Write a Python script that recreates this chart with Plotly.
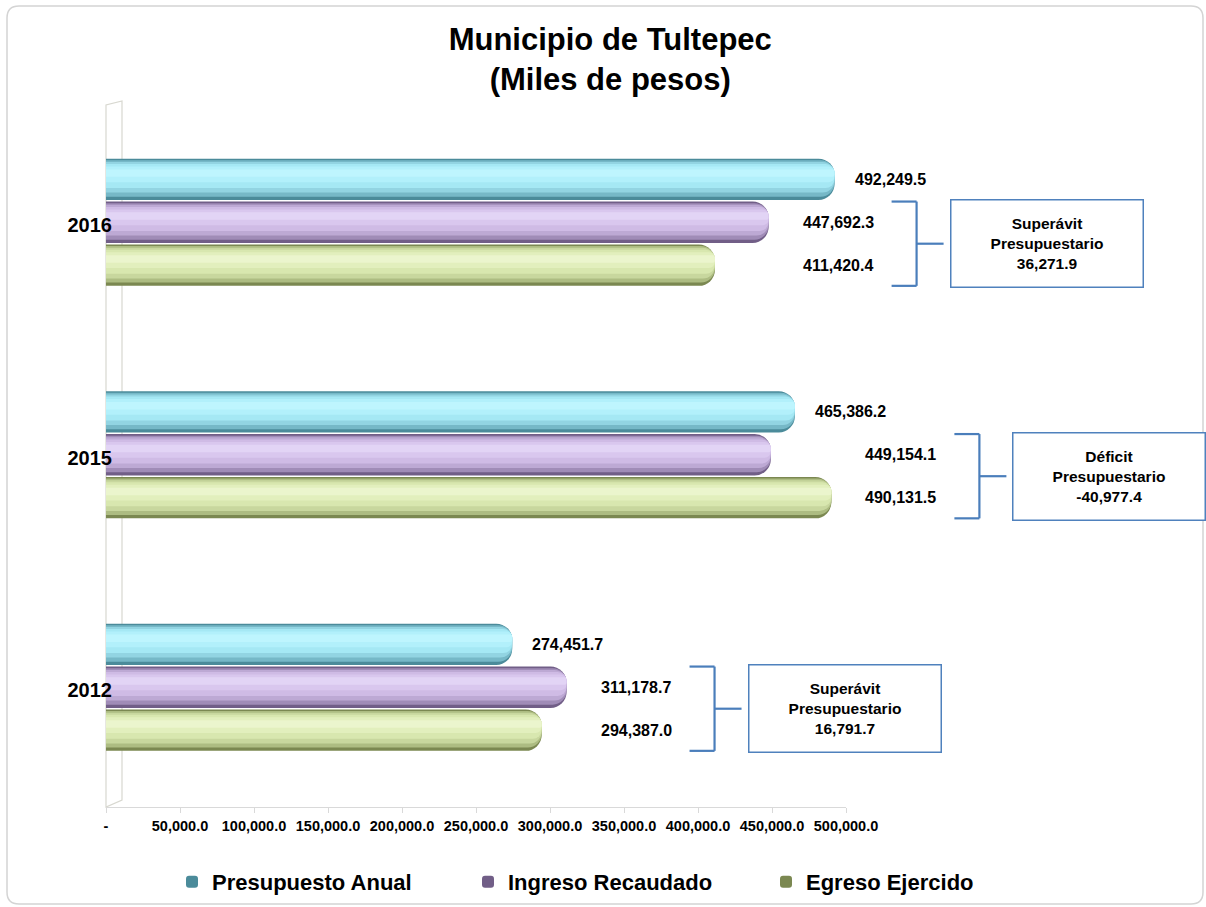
import plotly.graph_objects as go

# ---------------- data ----------------
years = ["2012", "2015", "2016"]
presupuesto_anual = [274451.7, 465386.2, 492249.5]
ingreso_recaudado = [311178.7, 449154.1, 447692.3]
egreso_ejercido = [294387.0, 490131.5, 411420.4]
series_names = ["Presupuesto Anual", "Ingreso Recaudado", "Egreso Ejercido"]
x_tick_vals = [0, 50000, 100000, 150000, 200000, 250000, 300000,
               350000, 400000, 450000, 500000]
x_tick_text = ["-", "50,000.0", "100,000.0", "150,000.0", "200,000.0",
               "250,000.0", "300,000.0", "350,000.0", "400,000.0",
               "450,000.0", "500,000.0"]

# ---------------- layout constants ----------------
W, H = 1206, 907
ML, MR, MT, MB = 106, 360, 106, 100
PW = W - ML - MR
PH = H - MT - MB
X_RANGE = [0, 500000]
Y_RANGE = [-0.515, 2.5]
FONT = "Liberation Sans, Arial, sans-serif"

SLOT = 0.1845          # distance between bar centres within a group
BW = 0.178             # bar thickness
offsets = [SLOT, 0.0, -SLOT]

# nested layers to imitate the cylinder shading: (fraction of thickness, upward shift)
layers = [(1.00, 0.00), (0.88, 0.02), (0.74, 0.05), (0.58, 0.08),
          (0.38, 0.12), (0.18, 0.15)]
palettes = [
    ["#4b8b9a", "#76b8c7", "#92d4e2", "#a5e8f4", "#b2f0fb", "#bef5fe"],
    ["#715e87", "#a08cb7", "#bda9d4", "#cfbbe5", "#d9c7ee", "#e2d4f5"],
    ["#7b8851", "#adbc82", "#c8d79e", "#d8e7af", "#e2efbd", "#ebf5cd"],
]
legend_ids = ["legend", "legend2", "legend3"]
legend_text_px = [213, 509, 807]

values = [presupuesto_anual, ingreso_recaudado, egreso_ejercido]
ypos = list(range(len(years)))


def fx(px):
    return (px - ML) / PW


def fy(py):
    return (H - MB - py) / PH


def dx(v):
    return (v - X_RANGE[0]) / (X_RANGE[1] - X_RANGE[0])


def dy(v):
    return (v - Y_RANGE[0]) / (Y_RANGE[1] - Y_RANGE[0])


fig = go.Figure()

for s, (name, vals) in enumerate(zip(series_names, values)):
    for k, (frac, shift) in enumerate(layers):
        thick = frac * BW
        centre = offsets[s] + shift * BW
        fig.add_trace(go.Bar(
            y=ypos, x=vals, orientation="h", name=name,
            offset=centre - thick / 2, width=thick,
            marker=dict(color=palettes[s][k], line=dict(width=0),
                        cornerradius="40%"),
            showlegend=(k == 0), legendgroup=name, legend=legend_ids[s],
            hovertemplate=name + ": %{x:,.1f}<extra></extra>",
        ))

annotations = []
shapes = []
label_font = dict(family=FONT, size=16, color="#000000", weight="bold")

for i in ypos:
    annotations.append(dict(
        x=presupuesto_anual[i], y=i + offsets[0], xref="x", yref="y",
        text=f"{presupuesto_anual[i]:,.1f}", showarrow=False,
        xanchor="left", yanchor="middle", xshift=18, font=label_font))
    m = max(ingreso_recaudado[i], egreso_ejercido[i])
    for s in (1, 2):
        annotations.append(dict(
            x=m, y=i + offsets[s], xref="x", yref="y",
            text=f"{values[s][i]:,.1f}", showarrow=False,
            xanchor="left", yanchor="middle", xshift=32, font=label_font))

    # bracket + balance box
    ytop = dy(i + offsets[1] + BW / 2)
    ybot = dy(i + offsets[2] - BW / 2)
    ymid = (ytop + ybot) / 2
    xa = dx(m)
    line = dict(color="#4a7ebb", width=2.2)
    for (x0, x1, y0, y1) in [(123, 148, ytop, ytop), (148, 148, ytop, ybot),
                             (123, 148, ybot, ybot), (148, 175, ymid, ymid)]:
        shapes.append(dict(type="line", xref="paper", yref="paper",
                           xsizemode="pixel", xanchor=xa, x0=x0, x1=x1,
                           y0=y0, y1=y1, line=line, layer="above"))
    diff = ingreso_recaudado[i] - egreso_ejercido[i]
    label = "Superávit" if diff >= 0 else "Déficit"
    annotations.append(dict(
        x=m, y=i + (offsets[1] + offsets[2]) / 2, xref="x", yref="y",
        text=f"{label}<br>Presupuestario<br>{diff:,.1f}",
        showarrow=False, xanchor="left", yanchor="middle", xshift=181,
        width=185, height=80, align="center", valign="middle",
        bordercolor="#4f81bd", borderwidth=1.5, borderpad=3, bgcolor="#ffffff",
        font=dict(family=FONT, size=15.5, color="#000000", weight="bold")))

# 3D wall at the left
wall = (f"M {fx(106)},{fy(807)} L {fx(106)},{fy(105)} "
        f"L {fx(122)},{fy(101)} L {fx(122)},{fy(800)} Z")
shapes.append(dict(type="path", xref="paper", yref="paper", path=wall,
                   line=dict(color="#d8d8d0", width=1.2), layer="below"))

# rounded outer frame
x0, x1, y0, y1, r = 7, 1203, 6, 904, 12
frame = (f"M {fx(x0 + r)},{fy(y0)} L {fx(x1 - r)},{fy(y0)} "
         f"Q {fx(x1)},{fy(y0)} {fx(x1)},{fy(y0 + r)} "
         f"L {fx(x1)},{fy(y1 - r)} Q {fx(x1)},{fy(y1)} {fx(x1 - r)},{fy(y1)} "
         f"L {fx(x0 + r)},{fy(y1)} Q {fx(x0)},{fy(y1)} {fx(x0)},{fy(y1 - r)} "
         f"L {fx(x0)},{fy(y0 + r)} Q {fx(x0)},{fy(y0)} {fx(x0 + r)},{fy(y0)} Z")
shapes.append(dict(type="path", xref="paper", yref="paper", path=frame,
                   line=dict(color="#d4d4d4", width=1.5), layer="below"))

legend_common = dict(orientation="h", xanchor="left", y=fy(882),
                     yanchor="middle", bgcolor="rgba(0,0,0,0)",
                     font=dict(family=FONT, size=22, color="#000000",
                               weight="bold"))

fig.update_layout(
    width=W, height=H,
    margin=dict(l=ML, r=MR, t=MT, b=MB, autoexpand=False),
    paper_bgcolor="#ffffff", plot_bgcolor="rgba(0,0,0,0)",
    barmode="overlay",
    title=dict(text="Municipio de Tultepec<br>(Miles de pesos)",
               x=0.506, xref="container", xanchor="center",
               y=1 - 50 / H, yref="container", yanchor="middle",
               font=dict(family=FONT, size=31, color="#000000",
                         weight="bold")),
    xaxis=dict(range=X_RANGE, tickvals=x_tick_vals, ticktext=x_tick_text,
               showgrid=False, zeroline=False, showline=True,
               linecolor="#d9d9d9", linewidth=1.2, ticks="outside", ticklen=5,
               tickcolor="#d9d9d9",
               tickfont=dict(family=FONT, size=14.5, color="#000000",
                             weight="bold")),
    yaxis=dict(range=Y_RANGE, tickvals=ypos, ticktext=years,
               showgrid=False, zeroline=False, showline=False, ticks="",
               ticklabelstandoff=-7, ticklabelshift=3,
               tickfont=dict(family=FONT, size=20, color="#000000",
                             weight="bold")),
    legend=dict(x=fx(legend_text_px[0] - 41), **legend_common),
    legend2=dict(x=fx(legend_text_px[1] - 41), **legend_common),
    legend3=dict(x=fx(legend_text_px[2] - 41), **legend_common),
    annotations=annotations,
    shapes=shapes,
    showlegend=True,
)

fig.write_html("out.html", config={"displayModeBar": False},
               post_script="document.body.style.margin='0px';")
